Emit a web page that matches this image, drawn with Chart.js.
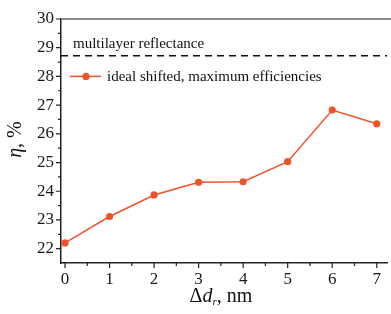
<!DOCTYPE html>
<html>
<head>
<meta charset="utf-8">
<script src="https://cdn.jsdelivr.net/npm/chart.js@4/dist/chart.umd.min.js"></script>
<style>
  html, body { margin: 0; padding: 0; background: #fff; }
  #wrap { width: 391px; height: 314px; }
</style>
</head>
<body>
<div id="wrap"><canvas id="chartArea"></canvas></div>
<script>
var shiftNm = [0, 1, 2, 3, 4, 5, 6, 7];
var efficiency = [22.2, 23.12, 23.87, 24.31, 24.33, 25.03, 26.83, 26.35];
var reflectance = 28.72;
var xTicks = [0, 1, 2, 3, 4, 5, 6, 7];
var yTicks = [22, 23, 24, 25, 26, 27, 28, 29, 30];
var xRange = [-0.09, 7.23];
var yRange = [21.5, 30];

var serif = "Liberation Serif";
var orange = '#f0532b';
Chart.defaults.font.family = serif;

// ticks outside the frame, with minor ticks half way
var frameTicks = {
    id: 'frameTicks',
    afterDraw: function (chart) {
        var c = chart.ctx, a = chart.chartArea;
        var sx = chart.scales.x, sy = chart.scales.y;
        c.save();
        c.strokeStyle = '#8a8a8a';
        c.lineWidth = 2;
        c.beginPath();
        c.moveTo(a.left, a.top);
        c.lineTo(chart.width, a.top);
        c.stroke();
        c.strokeStyle = '#222';
        c.lineWidth = 1.2;
        c.beginPath();
        xTicks.forEach(function (v) {
            var px = sx.getPixelForValue(v);
            c.moveTo(px, a.bottom); c.lineTo(px, a.bottom + 5);
            var mx = sx.getPixelForValue(v + 0.5);
            if (mx < a.right) { c.moveTo(mx, a.bottom); c.lineTo(mx, a.bottom + 3); }
        });
        yTicks.forEach(function (v) {
            var py = sy.getPixelForValue(v);
            c.moveTo(a.left, py); c.lineTo(a.left - 5, py);
            var my = sy.getPixelForValue(v - 0.5);
            if (my < a.bottom) { c.moveTo(a.left, my); c.lineTo(a.left - 3, my); }
        });
        c.stroke();

        // axis titles
        c.fillStyle = '#111';
        c.textBaseline = 'middle';
        var t1 = 'italic 20px ' + serif, t2 = '20px ' + serif;
        c.save();
        c.translate(16, sy.getPixelForValue(25.8));
        c.rotate(-Math.PI / 2);
        c.textAlign = 'left';
        c.font = t1; var w1 = c.measureText('η').width;
        c.font = t2; var w2 = c.measureText(', %').width;
        var x0 = -(w1 + w2) / 2;
        c.font = t1; c.fillText('η', x0, 0);
        c.font = t2; c.fillText(', %', x0 + w1, 0);
        c.restore();

        var bx = sx.getPixelForValue(3.5), by = 297;
        c.textAlign = 'left';
        c.font = t2; var a1 = c.measureText('Δ').width;
        c.font = t1; var a2 = c.measureText('d').width;
        c.font = 'italic 11px ' + serif; var a3 = c.measureText('r').width;
        c.font = t2; var a4 = c.measureText(', nm').width;
        var sxStart = bx - (a1 + a2 + a3 + a4) / 2;
        c.font = t2; c.fillText('Δ', sxStart, by);
        c.font = t1; c.fillText('d', sxStart + a1, by);
        c.font = 'italic 11px ' + serif; c.fillText('r', sxStart + a1 + a2, by + 5);
        c.font = t2; c.fillText(', nm', sxStart + a1 + a2 + a3, by);

        // legend
        c.font = '15px ' + serif;
        c.fillStyle = '#111';
        c.fillText(chart.data.datasets[1].label, a.left + 12, sy.getPixelForValue(29.12));
        var ly = sy.getPixelForValue(28.0);
        c.strokeStyle = orange;
        c.lineWidth = 1.5;
        c.beginPath();
        c.moveTo(a.left + 9, ly); c.lineTo(a.left + 40, ly);
        c.stroke();
        c.fillStyle = orange;
        c.beginPath();
        c.arc(a.left + 25, ly, 3.6, 0, Math.PI * 2);
        c.fill();
        c.fillStyle = '#111';
        c.fillText(chart.data.datasets[0].label, a.left + 46, ly + 1);
        c.restore();
    }
};

var config = {
    type: 'line',
    data: {
        datasets: [{
            label: 'ideal shifted, maximum efficiencies',
            data: shiftNm.map(function (x, i) { return { x: x, y: efficiency[i] }; }),
            borderColor: orange,
            backgroundColor: orange,
            borderWidth: 1.5,
            pointRadius: 3.6,
            pointBorderWidth: 0,
            tension: 0
        }, {
            label: 'multilayer reflectance',
            data: [{ x: xRange[0], y: reflectance }, { x: xRange[1], y: reflectance }],
            borderColor: '#111',
            borderWidth: 1.5,
            borderDash: [7, 5],
            pointRadius: 0
        }]
    },
    options: {
        responsive: true,
        maintainAspectRatio: false,
        animation: false,
        layout: { padding: { top: 19, right: 0, left: 0, bottom: 0 } },
        plugins: {
            legend: { display: false },
            tooltip: { enabled: false }
        },
        scales: {
            x: {
                type: 'linear',
                min: xRange[0],
                max: xRange[1],
                afterBuildTicks: function (s) { s.ticks = xTicks.map(function (v) { return { value: v }; }); },
                afterFit: function (s) { s.height = 51; s.paddingRight = 0; },
                grid: { display: false, drawTicks: false },
                border: { display: true, color: '#222', width: 1.5 },
                ticks: { padding: 6, color: '#1a1a1a', font: { family: serif, size: 17 }, maxRotation: 0 }
            },
            y: {
                min: yRange[0],
                max: yRange[1],
                afterBuildTicks: function (s) { s.ticks = yTicks.map(function (v) { return { value: v }; }); },
                afterFit: function (s) { s.width = 61; },
                grid: { display: false, drawTicks: false },
                border: { display: true, color: '#222', width: 1.5 },
                ticks: { padding: 7, color: '#1a1a1a', font: { family: serif, size: 17 } }
            }
        }
    },
    plugins: [frameTicks]
};

var ctx = document.getElementById('chartArea').getContext('2d');
var myNewChart = new Chart(ctx, config);
</script>
</body>
</html>
